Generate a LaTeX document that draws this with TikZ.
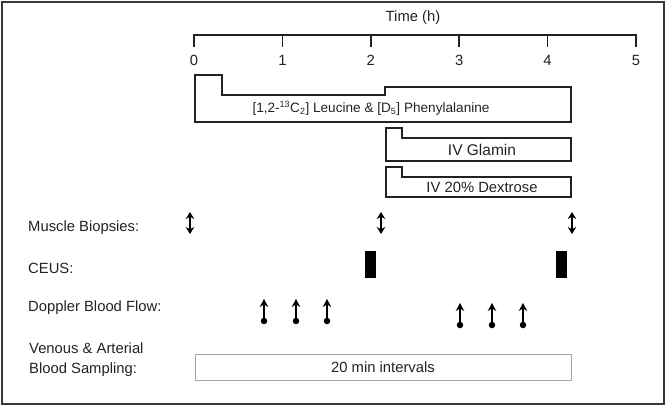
\documentclass[tikz,border=0pt]{standalone}
\usepackage{fontspec}
\setmainfont{Liberation Sans}
\usetikzlibrary{arrows.meta}
\definecolor{ink}{HTML}{222222}
\tikzset{
  lbl/.style={font=\fontsize{14.8}{16}\selectfont, text=ink, inner sep=0pt},
  ticklbl/.style={font=\fontsize{14.8}{16}\selectfont, text=ink, inner sep=0pt},
  stepbox/.style={draw=ink, line width=1.1pt},
  biopsy/.style={line width=1.6pt, draw=black, arrows={Stealth[length=7pt,width=8.5pt]-Stealth[length=7pt,width=8.5pt]}},
  doppler/.style={line width=1.6pt, draw=black, arrows={-Stealth[length=8pt,width=8.5pt]}},
  dot/.style={circle, fill=black, draw=none, inner sep=0pt, minimum size=6.5pt},
  ceus/.style={fill=black, draw=none},
}
\begin{document}
\begin{tikzpicture}[x=1pt,y=-1pt]
\useasboundingbox (0,0) rectangle (666,407);
\draw[draw=ink!90, line width=2pt] (2,2) rectangle (663.5,404);
% axis
\node[lbl] (title) at (413,18) {Time (h)};
\draw[ink, line width=1.6pt] (194,47) -- (194,35) -- (636,35) -- (636,47);
\foreach \i in {1,2,3,4} {\draw[ink, line width=1.6pt] ({194+88.4*\i},35) -- ({194+88.4*\i},47);}
\foreach \i in {0,...,5} {\node[ticklbl] (t\i) at ({194+88.4*\i},60) {\i};}
% infusion boxes
\draw[stepbox] (195,75) -- (222,75) -- (222,95) -- (385,95) -- (385,87) -- (571,87) -- (571,122) -- (195,122) -- cycle;
\node[lbl, font=\fontsize{13.6}{16}\selectfont] (leu) at (371,108) {[1,2-\textsuperscript{\fontsize{9}{9}\selectfont 13}C\textsubscript{\fontsize{9}{9}\selectfont 2}] Leucine \& [D\textsubscript{\fontsize{9}{9}\selectfont 5}] Phenylalanine};
\draw[stepbox] (386,128) -- (402,128) -- (402,138) -- (571,138) -- (571,161) -- (386,161) -- cycle;
\node[lbl, font=\fontsize{15.5}{16}\selectfont] (glamin) at (482,149.5) {IV Glamin};
\draw[stepbox] (386,167) -- (402,167) -- (402,177) -- (571,177) -- (571,197) -- (386,197) -- cycle;
\node[lbl] (dex) at (482,187.5) {IV 20\% Dextrose};
% row labels
\node[lbl, anchor=west] (mb) at (28,228) {Muscle Biopsies:};
\node[lbl, anchor=west] (ce) at (28,268) {CEUS:};
\node[lbl, anchor=west] (dp) at (28,308) {Doppler Blood Flow:};
\node[lbl, anchor=west, align=left, font=\fontsize{14.8}{20}\selectfont] (vs) at (29,360) {Venous \& Arterial\\Blood Sampling:};
% muscle biopsies
\foreach \x [count=\k] in {190,381,572} {
  \coordinate (b\k a) at (\x,234);
  \coordinate (b\k b) at (\x,212);
  \draw[biopsy] (b\k a) -- (b\k b);
}
% CEUS
\node[ceus, minimum width=11pt, minimum height=27pt, inner sep=0pt] (c1) at (370.5,264.5) {};
\node[ceus, minimum width=11pt, minimum height=27pt, inner sep=0pt] (c2) at (561.5,264.5) {};
% doppler
\foreach \x [count=\k] in {264,296,327} {
  \node[dot] (d\k a) at (\x,321) {};
  \coordinate (d\k b) at (\x,299);
  \draw[doppler] (d\k a.center) -- (d\k b);
}
\foreach \x [count=\k] in {460,492,523} {
  \node[dot] (e\k a) at (\x,325) {};
  \coordinate (e\k b) at (\x,303);
  \draw[doppler] (e\k a.center) -- (e\k b);
}
% sampling
\node[draw=gray!70, line width=0.8pt, minimum width=376pt, minimum height=26pt, inner sep=0pt] (samp) at (383,367) {};
\node[lbl] (sampt) at (samp.center) {20 min intervals};
\end{tikzpicture}
\end{document}
